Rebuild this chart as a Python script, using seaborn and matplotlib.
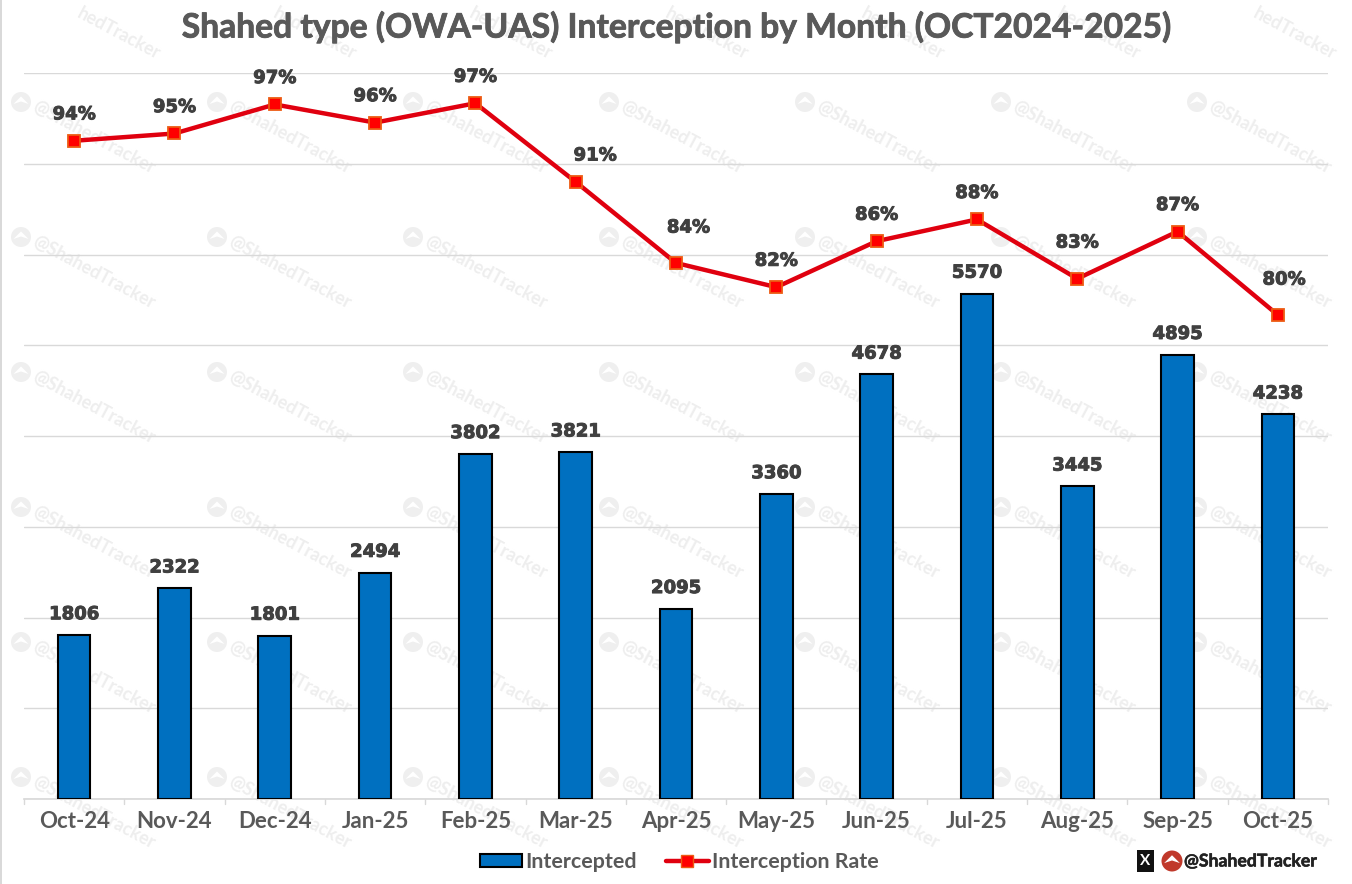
import matplotlib
matplotlib.use("Agg")
import matplotlib.pyplot as plt
import matplotlib.patheffects as pe
from matplotlib.patches import Rectangle, Circle, Patch, Polygon
from matplotlib.lines import Line2D
from matplotlib.transforms import IdentityTransform
import seaborn as sns
import pandas as pd

months = ["Oct-24","Nov-24","Dec-24","Jan-25","Feb-25","Mar-25","Apr-25","May-25","Jun-25","Jul-25","Aug-25","Sep-25","Oct-25"]
intercepted = [1806,2322,1801,2494,3802,3821,2095,3360,4678,5570,3445,4895,4238]
rate = [94.4,95.0,97.4,95.9,97.5,91.0,84.3,82.3,86.1,87.9,83.0,86.9,80.0]
rate_labels = ["94%","95%","97%","96%","97%","91%","84%","82%","86%","88%","83%","87%","80%"]
title = "Shahed type (OWA-UAS) Interception by Month (OCT2024-2025)"
handle_text = "@ShahedTracker"
series_names = ["Intercepted", "Interception Rate"]

W, H = 1352, 884
sns.set_theme(style="white")
plt.rcParams["font.family"] = ["Lato", "DejaVu Sans"]
fig = plt.figure(figsize=(W/100, H/100), dpi=100, facecolor="white")
ax = fig.add_axes([24/W, 1-799/H, (1328-24)/W, (799-73)/H])
ax.set_zorder(2)
df = pd.DataFrame({"month": months, "intercepted": intercepted, "rate": rate})

def logo(cx, cy, r, col, z):
    fig.add_artist(Circle((cx, H-cy), r, transform=IdentityTransform(), facecolor=col, edgecolor="none", zorder=z))
    fig.add_artist(Polygon([(cx-r*0.75, H-cy-r*0.2), (cx, H-cy+r*0.55), (cx+r*0.75, H-cy-r*0.2),
                            (cx, H-cy+r*0.05)], closed=True, transform=IdentityTransform(),
                           facecolor="white", edgecolor="none", zorder=z+0.1))

# watermark, behind the chart
wm = "#eeeeee"
for k in range(7):
    fig.text((78+196*k)/W, 1-12/H, "hedTracker", rotation=-28, rotation_mode="anchor", ha="left", va="center",
             fontsize=13, fontweight="bold", color=wm, zorder=0)
    for j in range(0, 6):
        x0, y0 = 21+196*k, 102+135*j
        logo(x0, y0, 10, "#efefef", 0)
        fig.text((x0+13)/W, 1-(y0+3)/H, "@ShahedTracker", rotation=-28, rotation_mode="anchor",
                 ha="left", va="center", fontsize=13, fontweight="bold", color=wm, zorder=0)

ax.set_facecolor("none")
sns.barplot(data=df, x="month", y="intercepted", ax=ax, color="#0070C0", saturation=1,
            width=0.325, edgecolor="black", linewidth=1.5, zorder=3)
ax.set_ylim(0, 8000)
ax.set_xlim(-0.5, 12.5)
ax.set_yticks(range(0, 8001, 1000))
ax.set_yticklabels([])
ax.tick_params(axis="y", length=0)
ax.grid(axis="y", color="#d9d9d9", lw=1)
ax.set_axisbelow(True)
ax.set_xlabel(""); ax.set_ylabel("")
ax.tick_params(axis="x", length=0, pad=9)
ax.set_xticks(range(13))
ax.set_xticklabels(months, fontsize=16, fontweight="bold", color="#595959")
for s in ["top", "left", "right"]:
    ax.spines[s].set_visible(False)
ax.spines["bottom"].set_color("#d9d9d9")
for i in range(14):
    ax.plot([i-0.5, i-0.5], [0, -0.007], transform=ax.get_xaxis_transform(), color="#d9d9d9", lw=1, clip_on=False)

heavy = [pe.withStroke(linewidth=0.7, foreground="#404040")]
lab = dict(fontsize=13, fontweight="bold", family="DejaVu Sans", color="#404040", zorder=6,
           ha="center", va="center", path_effects=heavy)
for i, v in enumerate(intercepted):
    ax.annotate(str(v), (i, v), xytext=(0, 15), textcoords="offset points", **lab)

ax2 = ax.twinx()
ax2.set_zorder(3)
ax2.set_ylim(40, 100)
ax2.patch.set_visible(False)
sns.lineplot(data=df, x="month", y="rate", ax=ax2, color="#E0000F", lw=3.2, marker="s",
             markersize=8, markerfacecolor="#FF0000", markeredgecolor="#ED5A12", markeredgewidth=1.3,
             sort=False, errorbar=None, zorder=5)
ax2.set_yticks([]); ax2.set_ylabel(""); ax2.set_xlabel("")
for s in ax2.spines.values():
    s.set_visible(False)
ax2.set_xlim(-0.5, 12.5)
# a few labels sit off their default place, as in the original
nudges = {5: (14, 19), 6: (9, 25.5), 10: (0, 26), 12: (4.5, 25.5)}
for i, (v, t) in enumerate(zip(rate, rate_labels)):
    ax2.annotate(t, (i, v), xytext=nudges.get(i, (0, 19)), textcoords="offset points", **lab)

fig.text(676/W, 1-27/H, title, ha="center", va="center", fontsize=24.2, fontweight="bold", color="#595959",
         path_effects=[pe.withStroke(linewidth=0.6, foreground="#595959")])

handles = [Patch(facecolor="#0070C0", edgecolor="black", linewidth=1.5),
           Line2D([], [], color="#E0000F", lw=3.2, marker="s", markersize=8,
                  markerfacecolor="#FF0000", markeredgecolor="#ED5A12")]
leg = fig.legend(handles, series_names, loc="center", bbox_to_anchor=(679/W, 1-862/H),
                 ncol=2, frameon=False, handlelength=2.0, handletextpad=0.14,
                 columnspacing=1.35, handleheight=0.55, labelcolor="#595959",
                 prop={"weight": "bold", "size": 15.4})

# handle mark at the bottom right
fig.add_artist(Rectangle((1137/W, 1-872/H), 17/W, 22/H, transform=fig.transFigure, facecolor="#111111", edgecolor="none"))
fig.text(1145.5/W, 1-861/H, "X", ha="center", va="center", fontsize=11, fontweight="bold", color="white", zorder=5)
logo(1172, 861, 10.5, "#C0392B", 3)
fig.text(1184/W, 1-861/H, handle_text, ha="left", va="center", fontsize=12.7, fontweight="bold", color="#222222",
         path_effects=[pe.withStroke(linewidth=0.4, foreground="#222222")])

# left page edge
fig.add_artist(Rectangle((0, 0), 2/W, 1, transform=fig.transFigure, facecolor="#d9d9d9", edgecolor="none"))

fig.savefig("out.png", dpi=100)
